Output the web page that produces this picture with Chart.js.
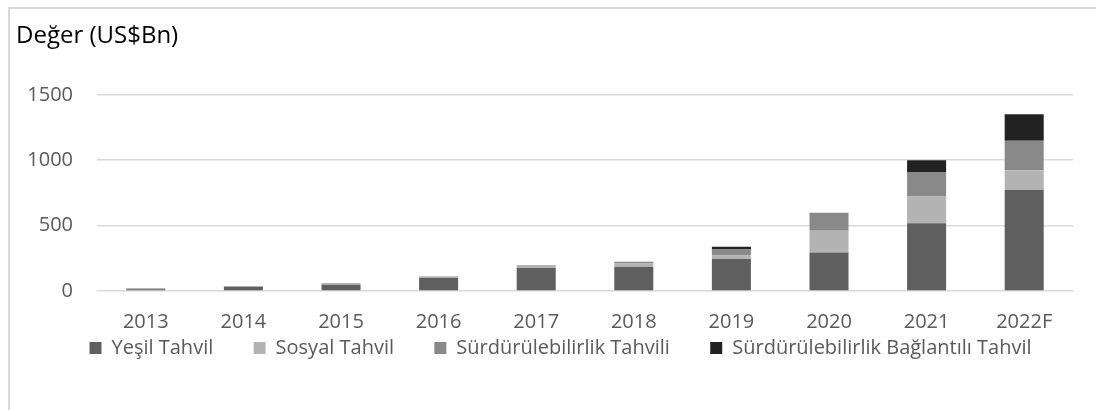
<!DOCTYPE html>
<html>
<head>
<meta charset="utf-8">
<script src="https://cdn.jsdelivr.net/npm/chart.js@4"></script>
<style>
  body { margin: 0; background: #fff; }
  #frame { position: absolute; left: 8px; top: 7px; right: 0; bottom: 0; border-left: 2px solid #d9d9d9; border-top: 2px solid #d9d9d9; }
  #chart { position: absolute; left: 0; top: 0; }
</style>
</head>
<body>
<div id="frame"></div>
<canvas id="chart" width="1096" height="410"></canvas>
<script>
const years = ["2013", "2014", "2015", "2016", "2017", "2018", "2019", "2020", "2021", "2022F"];
const seriesNames = ["Yeşil Tahvil", "Sosyal Tahvil", "Sürdürülebilirlik Tahvili", "Sürdürülebilirlik Bağlantılı Tahvil"];
const yesil = [13, 30, 47, 100, 175, 185, 244, 295, 518, 772];
const sosyal = [9, 8, 15, 13, 23, 26, 28, 166, 205, 151];
const surdurulebilir = [0, 0, 0, 0, 0, 13, 46, 137, 187, 226];
const baglantili = [0, 0, 0, 0, 0, 0, 20, 0, 90, 202];
const yTicks = [0, 500, 1000, 1500];
const colors = ["#5f5f5f", "#b3b3b3", "#898989", "#222222"];

const font = "'Open Sans', sans-serif";
const values = [yesil, sosyal, surdurulebilir, baglantili];

// the original legend sits a little right of centre and close under the axis labels
const legendShift = {
    id: "legendShift",
    afterLayout(chart) {
        const lg = chart.legend;
        lg.left += 16;
        lg.right += 16;
        lg.top -= 11;
        lg.bottom -= 11;
    }
};

const ctx = document.getElementById("chart").getContext("2d");
new Chart(ctx, {
    type: "bar",
    data: {
        labels: years,
        datasets: seriesNames.map((name, i) => ({
            label: name,
            data: values[i],
            backgroundColor: colors[i],
            barPercentage: 0.4,
            categoryPercentage: 1
        }))
    },
    plugins: [legendShift],
    options: {
        responsive: false,
        animation: false,
        layout: { padding: { left: 16, right: 23, top: 0, bottom: 31 } },
        plugins: {
            title: {
                display: true,
                text: "Değer (US$Bn)",
                align: "start",
                color: "#000",
                font: { family: font, size: 24, weight: "normal" },
                padding: { top: 22, bottom: 44 }
            },
            legend: {
                position: "bottom",
                labels: {
                    color: "#595959",
                    font: { family: font, size: 20 },
                    boxWidth: 12,
                    boxHeight: 12,
                    padding: 4,
                    // wide gaps between items without a tall legend box
                    generateLabels: chart => Chart.defaults.plugins.legend.labels.generateLabels(chart)
                        .map((item, i, all) => ({ ...item, text: i < all.length - 1 ? item.text + "       " : item.text }))
                }
            },
            tooltip: { enabled: false }
        },
        scales: {
            x: {
                stacked: true,
                grid: { display: false },
                border: { display: false },
                ticks: { color: "#595959", font: { family: font, size: 20 }, padding: 11, maxRotation: 0 }
            },
            y: {
                stacked: true,
                min: 0,
                max: 1500,
                afterFit: s => { s.width = 81; },
                afterBuildTicks: s => { s.ticks = yTicks.map(v => ({ value: v })); },
                grid: { color: "#d9d9d9", lineWidth: 1.5, drawTicks: false },
                border: { display: false },
                ticks: { color: "#595959", font: { family: font, size: 20 }, padding: 24, callback: v => String(v) }
            }
        }
    }
});
</script>
</body>
</html>
